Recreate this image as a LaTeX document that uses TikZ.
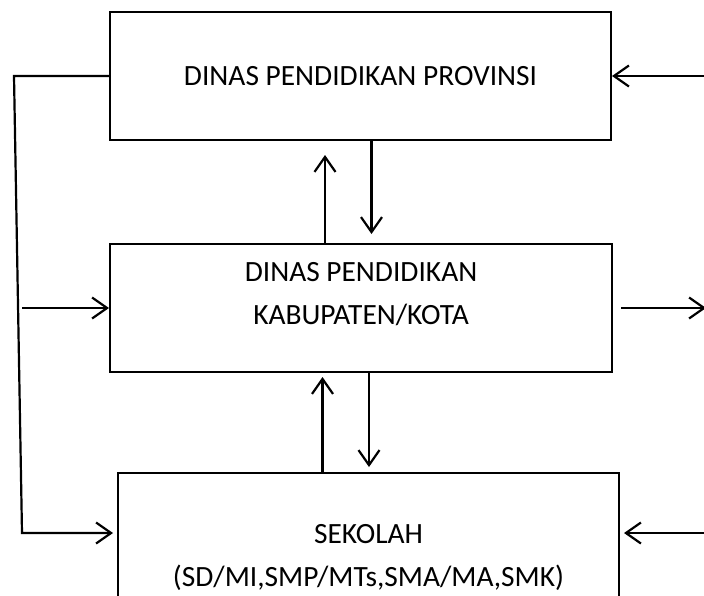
\documentclass[tikz,border=0pt]{standalone}
\usepackage{fontspec}
\setmainfont{Carlito}
\usetikzlibrary{arrows.meta}
\begin{document}
\begin{tikzpicture}[x=0.5pt, y=-0.5pt,
  unit/.style={draw, line width=1pt, inner sep=0pt},
  tag/.style={align=center, font=\fontsize{14.7}{21.5}\selectfont},
  flow/.style={line width=1.1pt, -{Straight Barb[length=7.5pt,width=10.5pt,line width=1.1pt]}}]
  \useasboundingbox (0,0) rectangle (704,595);
  \clip (0,0) rectangle (704,595);
  % Provinsi
  \node[unit, tag, minimum width=250.5pt, minimum height=64pt] (prov) at (360.5,76) {DINAS PENDIDIKAN PROVINSI};
  % Kabupaten/Kota
  \node[unit, minimum width=251pt, minimum height=64pt] (kab) at (361,308) {};
  \node[tag] (kabtext) at (361,294) {DINAS PENDIDIKAN\\KABUPATEN/KOTA};
  % Sekolah, cut off at the bottom
  \node[unit, minimum width=250.5pt, minimum height=100pt, anchor=north] (sek) at (368.5,472) {};
  \node[tag] (sektext) at (368.5,557) {SEKOLAH\\(SD/MI,SMP/MTs,SMA/MA,SMK)};
  % Left line
  \coordinate (lt) at (14,76);
  \coordinate (lb) at (22,533);
  \coordinate (lm) at (22,308);
  \draw[flow, shorten >=2pt] (prov.west) -- (lt) -- (lb) -- (lb -| sek.west);
  \draw[flow] (lm) -- (kab.west);
  % Provinsi <-> Kabupaten/Kota
  \coordinate (up1) at ([xshift=-18pt]kab.north);
  \coordinate (dn1) at ([xshift=5.5pt]prov.south);
  \draw[flow, shorten >=7pt] (up1) -- (up1 |- prov.south);
  \draw[flow, shorten >=4.5pt] (dn1) -- (dn1 |- kab.north);
  % Kabupaten/Kota <-> Sekolah
  \coordinate (up2) at ([xshift=-23pt]sek.north);
  \coordinate (dn2) at ([xshift=4pt]kab.south);
  \draw[flow, shorten >=2pt] (up2) -- (up2 |- kab.south);
  \draw[flow, shorten >=2.5pt] (dn2) -- (dn2 |- sek.north);
  % Right side
  \coordinate (r1) at (704,76);
  \coordinate (r2) at (706,308);
  \coordinate (r3) at (704,533);
  \draw[flow] (r1) -- (prov.east);
  \draw[flow] ([xshift=4pt]kab.east) -- (r2);
  \draw[flow, shorten >=2pt] (r3) -- (r3 -| sek.east);
\end{tikzpicture}
\end{document}
